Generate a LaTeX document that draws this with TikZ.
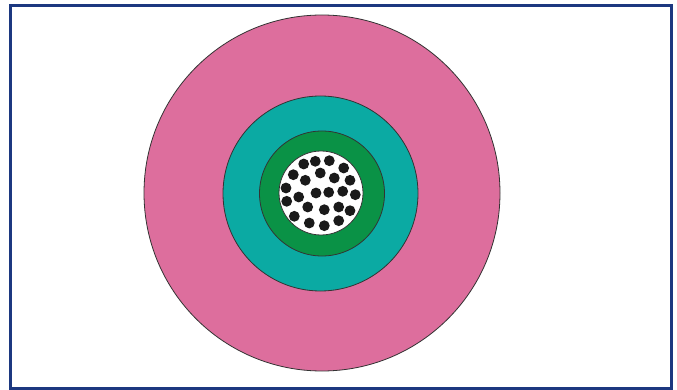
\documentclass[tikz,border=0pt]{standalone}
\definecolor{pinkc}{HTML}{DD6E9D}
\definecolor{tealc}{HTML}{0BAAA3}
\definecolor{greenc}{HTML}{0A9246}
\definecolor{navyc}{HTML}{1C3880}
\definecolor{dotc}{HTML}{1A1A1A}
\tikzset{
  ring/.style={draw=black!80, line width=0.8pt},
  wire/.style={fill=dotc, draw=none},
  frame/.style={draw=navyc, line width=2.4pt}
}
\begin{document}
\begin{tikzpicture}[x=1pt,y=-1pt]
\useasboundingbox (0,0) rectangle (677,390);
\fill[white] (0,0) rectangle (677,390);
\draw[frame] (10.5,5.5) rectangle (671.5,388.5);
\draw[ring, fill=pinkc] (322,193) circle (178);
\draw[ring, fill=tealc] (320.5,193.5) circle (97.5);
\draw[ring, fill=greenc] (322,193.5) circle (62.5);
\draw[ring, fill=white] (321,193) circle (42);
\foreach \x/\y in {315.3/161.3, 329.3/160.7, 303.7/164, 343.7/168, 293.3/174.7,
  320.3/173, 305.3/180.3, 334.3/178, 350/180.3, 286/188, 316/193, 328.7/192.3,
  342.7/191.3, 355.3/194.7, 298.7/197, 286.7/201.3, 307.7/207, 324.3/209.7,
  338.7/207, 350/210.7, 294.3/216.3, 309.3/223, 324.3/225.7, 338.7/220.7}
  \fill[wire] (\x,\y) circle (5.4);
\end{tikzpicture}
\end{document}
